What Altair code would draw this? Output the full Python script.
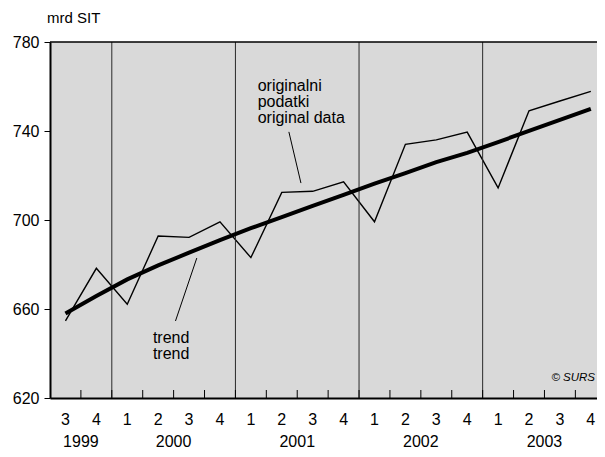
import altair as alt
import pandas as pd

# ---- data ----
quarters = ["3", "4", "1", "2", "3", "4", "1", "2", "3", "4",
            "1", "2", "3", "4", "1", "2", "3", "4"]
original = [654.7, 678.3, 662.1, 692.8, 692.2, 699.2, 683.1, 712.4, 712.9,
            717.2, 699.2, 734.0, 736.0, 739.5, 714.4, 749.1, 753.5, 757.8]
trend = [658.0, 665.8, 673.3, 679.6, 685.3, 691.0, 696.3, 701.3, 706.3,
         711.3, 716.3, 721.1, 726.0, 730.2, 735.0, 740.1, 745.0, 749.9]
years = ["1999", "2000", "2001", "2002", "2003"]
year_centers = [1, 4, 8, 12, 16]
year_bounds = [2, 6, 10, 14]
y_ticks = [620, 660, 700, 740, 780]

FONT = "Liberation Sans"
W, H = 547, 356
XMAX = 17.7

df = pd.DataFrame({
    "pos": [i + 0.5 for i in range(len(quarters))],
    "q": quarters,
    "original": original,
    "trend": trend,
})
df_years = pd.DataFrame({"pos": year_centers, "year": years})
df_bounds = pd.DataFrame({"pos": year_bounds})
df_ticks = pd.DataFrame({"pos": list(range(1, 18))})
df_one = pd.DataFrame({"k": [0]})

xs = alt.Scale(domain=[0, XMAX], nice=False, zero=False)
ys = alt.Scale(domain=[620, 780], nice=False, zero=False)

base = alt.Chart(df)

x_enc = alt.X("pos:Q", scale=xs,
              axis=alt.Axis(labels=False, ticks=False, grid=False, title=None,
                            domainColor="black", domainWidth=2))
y_enc_orig = alt.Y("original:Q", scale=ys,
                   axis=alt.Axis(values=y_ticks, grid=False, title=None,
                                 domainColor="black", domainWidth=2,
                                 tickColor="black", tickSize=6, tickWidth=1,
                                 labelFont=FONT, labelFontSize=16,
                                 labelColor="black", labelPadding=5))

orig_line = base.mark_line(color="black", strokeWidth=1.4).encode(
    x=x_enc, y=y_enc_orig)
trend_line = base.mark_line(color="black", strokeWidth=4).encode(
    x=alt.X("pos:Q", scale=xs), y=alt.Y("trend:Q", scale=ys))

bounds = alt.Chart(df_bounds).mark_rule(color="#2a2a2a", strokeWidth=1).encode(
    x=alt.X("pos:Q", scale=xs), y=alt.value(0), y2=alt.value(H))

ticks = alt.Chart(df_ticks).mark_rule(color="black", strokeWidth=1).encode(
    x=alt.X("pos:Q", scale=xs), y=alt.value(H - 8), y2=alt.value(H))

top_border = alt.Chart(df_one).mark_rule(color="black", strokeWidth=1.5).encode(
    x=alt.value(0), x2=alt.value(W), y=alt.value(0))

q_labels = base.mark_text(font=FONT, fontSize=16, color="black",
                          baseline="middle", align="center").encode(
    x=alt.X("pos:Q", scale=xs), y=alt.value(H + 22), text="q:N")

y_labels = alt.Chart(df_years).mark_text(font=FONT, fontSize=16, color="black",
                                         baseline="middle", align="center").encode(
    x=alt.X("pos:Q", scale=xs), y=alt.value(H + 44), text="year:N")

unit = alt.Chart(df_one).mark_text(font=FONT, fontSize=15, color="black",
                                   align="left", baseline="middle").encode(
    x=alt.value(-3), y=alt.value(-24), text=alt.value("mrd SIT"))

ann_df = pd.DataFrame({
    "x": [6.72, 3.33],
    "y": [758.1, 644.6],
    "t": [["originalni", "podatki", "original data"], ["trend", "trend"]],
})
ann = alt.Chart(ann_df).mark_text(font=FONT, fontSize=16, color="black",
                                  align="left", baseline="alphabetic",
                                  lineHeight=16).encode(
    x=alt.X("x:Q", scale=xs), y=alt.Y("y:Q", scale=ys), text="t")

lead_df = pd.DataFrame({
    "x": [7.73, 4.06], "y": [739.6, 654.6],
    "x2": [8.12, 4.75], "y2": [716.6, 682.9],
})
leaders = alt.Chart(lead_df).mark_rule(color="black", strokeWidth=1).encode(
    x=alt.X("x:Q", scale=xs), y=alt.Y("y:Q", scale=ys),
    x2="x2:Q", y2="y2:Q")

src_df = pd.DataFrame({"y": [629.0], "t": ["© SURS"]})
src = alt.Chart(src_df).mark_text(font=FONT, fontSize=11.5, fontStyle="italic",
                                  color="black", align="right",
                                  baseline="middle").encode(
    x=alt.value(W - 2), y=alt.Y("y:Q", scale=ys), text="t:N")

chart = alt.layer(
    orig_line, bounds, trend_line, ticks, top_border,
    q_labels, y_labels, unit, ann, leaders, src,
).properties(
    width=W, height=H,
    autosize=alt.AutoSizeParams(type="none"),
    padding={"left": 42, "top": 34, "right": 0, "bottom": 52},
).configure_view(fill="#d9d9d9", stroke=None)

chart.save("out.html", embed_options={"renderer": "svg", "actions": False})
